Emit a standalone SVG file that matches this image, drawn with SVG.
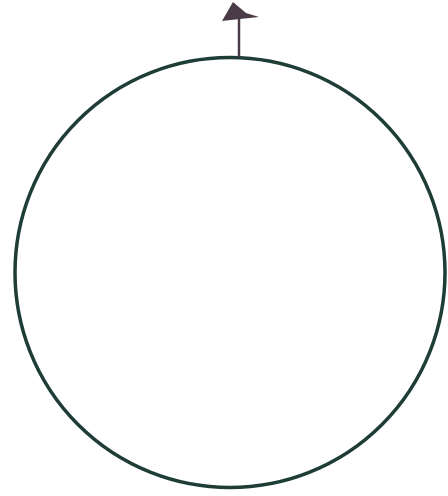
<svg xmlns="http://www.w3.org/2000/svg" width="448" height="496" viewBox="0 0 448 496">
<style>
.ring{fill:none;stroke:#1f3d37;stroke-width:3.5}
.stem{stroke:#4a3b47;stroke-width:2.5;fill:none}
.head{fill:#4a3b47}
</style>
<rect width="448" height="496" fill="#ffffff"/>
<g id="circle">
<circle class="ring" cx="230" cy="272.5" r="215"/>
</g>
<g id="connectors">
<line class="stem" x1="239" y1="57" x2="239" y2="17"/>
<polygon class="head" points="233,2 222,21 240,19 259,17 246,13"/>
</g>
</svg>
